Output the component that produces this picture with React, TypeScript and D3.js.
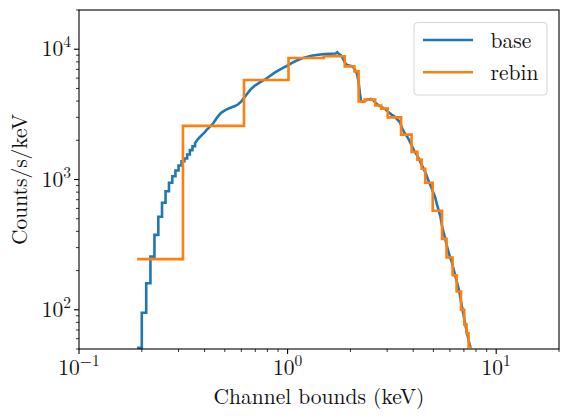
import * as d3 from "d3";

// base spectrum: lower channel edge (keV) and rate (counts/s/keV)
const BASE_E = [
  0.19, 0.2, 0.21, 0.22, 0.23, 0.24, 0.25, 0.26, 0.27, 0.28, 0.29, 0.3, 0.31,
  0.32, 0.33, 0.34, 0.35, 0.36, 0.37, 0.38, 0.39, 0.4, 0.41, 0.42, 0.43, 0.44,
  0.45, 0.46, 0.47, 0.48, 0.5, 0.52, 0.54, 0.56, 0.58, 0.6, 0.62, 0.64, 0.66,
  0.68, 0.7, 0.73, 0.76, 0.79, 0.82, 0.86, 0.9, 0.95, 1.0, 1.05, 1.1, 1.15,
  1.2, 1.3, 1.4, 1.5, 1.6, 1.7, 1.73, 1.76, 1.8, 1.84, 1.88, 1.92, 2.0, 2.05,
  2.1, 2.15, 2.19, 2.22, 2.25, 2.3, 2.4, 2.5, 2.58, 2.65, 2.75, 2.85, 2.95,
  3.05, 3.15, 3.25, 3.35, 3.45, 3.55, 3.65, 3.75, 3.85, 3.95, 4.05, 4.15,
  4.28, 4.4, 4.5, 4.6, 4.7, 4.8, 4.9, 5.0, 5.1, 5.2, 5.3, 5.4, 5.5, 5.6, 5.7,
  5.8, 5.9, 6.0, 6.1, 6.2, 6.3, 6.4, 6.5, 6.6, 6.7, 6.8, 6.9, 7.0, 7.1, 7.2,
  7.3, 7.4, 7.5,
];
const BASE_C = [
  51, 95, 160, 256, 376, 518, 663, 813, 944, 1060, 1172, 1280, 1380,
  1450, 1555, 1680, 1800, 1900, 2025, 2120, 2210, 2300, 2414, 2500, 2600, 2700,
  2850, 3000, 3130, 3250, 3390, 3500, 3590, 3660, 3780, 3980, 4250, 4550, 4850,
  5080, 5280, 5520, 5750, 5950, 6200, 6550, 6850, 7200, 7500, 7850, 8150, 8400,
  8620, 8900, 9070, 9170, 9220, 9260, 9480, 9200, 9000, 8500, 7900, 7600, 7450, 7380,
  7000, 6500, 5600, 4600, 4000, 3940, 4080, 4160, 4050, 3850, 3680, 3560, 3450,
  3280, 3150, 3060, 2900, 2760, 2450, 2250, 2120, 1960, 1800, 1650, 1560,
  1420, 1290, 1200, 1110, 1010, 930, 860, 790, 730, 645, 580, 520, 440, 390, 350,
  310, 280, 255, 238, 215, 195, 176, 160, 145, 130, 112, 100, 88, 78, 70,
  63, 57, 52,
];
const BASE_END = 7.55;
// below this energy the individual channels are wide enough to show as steps
const STEP_LIMIT = 0.36;

// rebinned spectrum: bin edges (keV) and rate per bin
const REBIN_EDGES = [
  0.19, 0.315, 0.618, 1.01, 1.49, 1.88, 2.09, 2.19, 2.34, 2.63, 2.81, 3.02,
  3.5, 3.93, 4.19, 4.39, 4.57, 4.96, 5.5, 5.78, 6.18, 6.46, 6.78, 7.03, 7.21,
  7.37, 7.65,
];
const REBIN_C = [
  245, 2580, 5810, 8570, 8830, 7380, 6760, 3980, 4100, 3700, 3500, 3000,
  2210, 1630, 1420, 1210, 944, 575, 350, 252, 184, 138, 100, 77, 66, 52,
];

const X_MAJOR = [0.1, 1, 10];
const X_EXP = ["\u22121", "0", "1"];
const Y_MAJOR = [100, 1000, 10000];
const Y_EXP = ["2", "3", "4"];

const W = 569;
const H = 419;
const plot = { left: 79, right: 559, top: 10, bottom: 349 };
const FONT = '"Latin Modern Roman", "Liberation Serif", monospace';
const FS = 21.5;
const SUP = 15.5;
const BLUE = "#1f77b4";
const ORANGE = "#ff7f0e";

export default function App() {
  const x = d3.scaleLog().domain([0.1, 20]).range([plot.left, plot.right]);
  const y = d3.scaleLog().domain([50, 20000]).range([plot.bottom, plot.top]);

  const stepLine = d3
    .line<[number, number]>()
    .x((d) => x(d[0]))
    .y((d) => y(d[1]))
    .curve(d3.curveStepAfter);
  const smoothLine = d3
    .line<[number, number]>()
    .x((d) => x(d[0]))
    .y((d) => y(d[1]));

  const basePts: [number, number][] = BASE_E.map((e, i) => [e, BASE_C[i]]);
  basePts.push([BASE_END, BASE_C[BASE_C.length - 1]]);
  const splitAt = BASE_E.findIndex((e) => e >= STEP_LIMIT);
  const baseLow = basePts.slice(0, splitAt + 1);
  const baseHigh = basePts.slice(splitAt);

  const rebinPts: [number, number][] = REBIN_C.map((c, i) => [REBIN_EDGES[i], c]);
  rebinPts.push([REBIN_EDGES[REBIN_EDGES.length - 1], REBIN_C[REBIN_C.length - 1]]);

  const isMajor = (v: number) => Math.abs(Math.log10(v) - Math.round(Math.log10(v))) < 1e-9;
  const xMinor = x.ticks().filter((t) => !isMajor(t));
  const yMinor = y.ticks().filter((t) => !isMajor(t));

  const ts = { fontFamily: FONT };

  return (
    <svg
      width={W}
      height={H}
      style={{ position: "absolute", left: 0, top: 0, background: "#fff" }}
    >
      <defs>
        <clipPath id="plot-clip">
          <rect x={plot.left} y={plot.top} width={plot.right - plot.left} height={plot.bottom - plot.top} />
        </clipPath>
      </defs>
      <rect width={W} height={H} fill="#fff" />

      <g clipPath="url(#plot-clip)" fill="none" strokeWidth={2.6}>
        <path d={(stepLine(baseLow) ?? "") + (smoothLine(baseHigh) ?? "").replace(/^M/, "L")} stroke={BLUE} />
        <path d={stepLine(rebinPts) ?? ""} stroke={ORANGE} />
      </g>

      {/* frame */}
      <rect
        x={plot.left}
        y={plot.top}
        width={plot.right - plot.left}
        height={plot.bottom - plot.top}
        fill="none"
        stroke="#000"
        strokeWidth={1.1}
      />

      {/* ticks, pointing outwards */}
      <g stroke="#000" strokeWidth={1.1}>
        {X_MAJOR.map((t) => (
          <line key={"xM" + t} x1={x(t)} x2={x(t)} y1={plot.bottom} y2={plot.bottom + 5} />
        ))}
        {xMinor.map((t) => (
          <line key={"xm" + t} x1={x(t)} x2={x(t)} y1={plot.bottom} y2={plot.bottom + 3} strokeWidth={0.8} />
        ))}
        {Y_MAJOR.map((t) => (
          <line key={"yM" + t} y1={y(t)} y2={y(t)} x1={plot.left} x2={plot.left - 5} />
        ))}
        {yMinor.map((t) => (
          <line key={"ym" + t} y1={y(t)} y2={y(t)} x1={plot.left} x2={plot.left - 3} strokeWidth={0.8} />
        ))}
      </g>

      {/* tick labels */}
      {X_MAJOR.map((t, i) => (
        <text key={"xl" + t} x={x(t)} y={375} textAnchor="middle" fontSize={FS} fill="#111" style={ts}>
          <tspan>10</tspan>
          <tspan fontSize={SUP} dy={-9}>{X_EXP[i]}</tspan>
        </text>
      ))}
      {Y_MAJOR.map((t, i) => (
        <text key={"yl" + t} x={71} y={y(t) + 7} textAnchor="end" fontSize={FS} fill="#111" style={ts}>
          <tspan>10</tspan>
          <tspan fontSize={SUP} dy={-9}>{Y_EXP[i]}</tspan>
        </text>
      ))}

      {/* axis labels */}
      <text x={(plot.left + plot.right) / 2} y={404} textAnchor="middle" fontSize={FS} fill="#111" style={ts}>
        Channel bounds (keV)
      </text>
      <text
        transform={`translate(27,${(plot.top + plot.bottom) / 2}) rotate(-90)`}
        textAnchor="middle"
        fontSize={FS}
        fill="#111"
        style={ts}
      >
        Counts/s/keV
      </text>

      {/* legend */}
      <g>
        <rect x={414} y={22.5} width={133} height={72.5} rx={3.5} fill="#fff" fillOpacity={0.8} stroke="#d4d4d4" strokeWidth={1} />
        <line x1={423} x2={473} y1={40} y2={40} stroke={BLUE} strokeWidth={2.6} />
        <line x1={423} x2={473} y1={72.3} y2={72.3} stroke={ORANGE} strokeWidth={2.6} />
        <text x={490.5} y={48} fontSize={FS} fill="#111" style={ts}>base</text>
        <text x={490.5} y={80} fontSize={FS} fill="#111" style={ts}>rebin</text>
      </g>
    </svg>
  );
}
